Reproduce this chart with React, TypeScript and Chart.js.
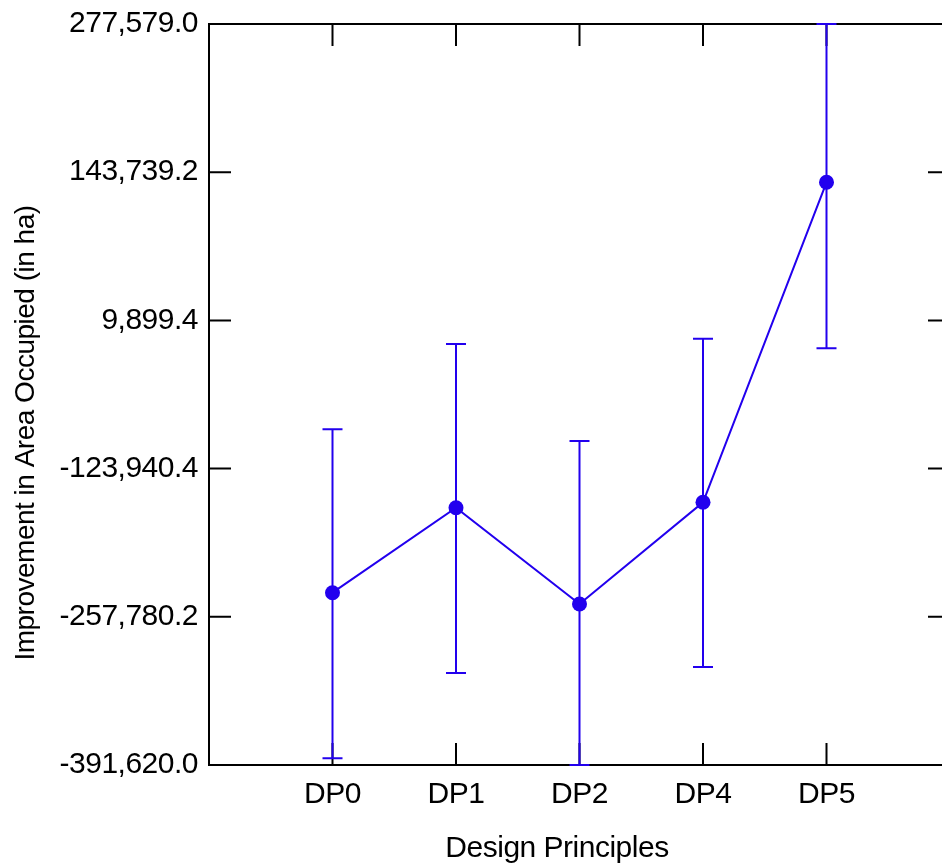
import React, { useEffect, useRef } from 'react';
import { Chart, registerables } from 'chart.js';

Chart.register(...registerables);

const categories = ['DP0', 'DP1', 'DP2', 'DP4', 'DP5'];
const means = [-236014, -159250, -246219, -154374, 134618];
const upper = [-88447, -11413, -99014, -6627, 277579];
const lower = [-385567, -308533, -391620, -303114, -15296];
const yTickValues = [-391620.0, -257780.2, -123940.4, 9899.4, 143739.2, 277579.0];
const xTitle = 'Design Principles';
const yTitle = 'Improvement in Area Occupied (in ha)';

const BLUE = '#2200ee';
const FONT = '"Liberation Sans", Arial, sans-serif';

const fmt = (v: number) =>
  v.toLocaleString('en-US', { minimumFractionDigits: 1, maximumFractionDigits: 1 });

const customPlugin = {
  id: 'custom',
  beforeDraw(chart: any) {
    const ctx = chart.ctx;
    ctx.letterSpacing = '-0.5px';
    ctx.save();
    ctx.fillStyle = '#fff';
    ctx.fillRect(0, 0, chart.width, chart.height);
    ctx.restore();
  },
  beforeDatasetsDraw(chart: any) {
    const { ctx, chartArea: a, scales } = chart;
    const x = scales.x;
    const y = scales.y;
    const TL = 22;
    ctx.save();
    ctx.strokeStyle = '#000';
    ctx.lineWidth = 2;
    ctx.beginPath();
    ctx.rect(a.left, a.top, a.right - a.left, a.bottom - a.top);
    ctx.stroke();
    ctx.beginPath();
    yTickValues.forEach((v) => {
      const py = y.getPixelForValue(v);
      ctx.moveTo(a.left, py);
      ctx.lineTo(a.left + TL, py);
      ctx.moveTo(a.right, py);
      ctx.lineTo(a.right - TL, py);
    });
    categories.forEach((_, i) => {
      const px = x.getPixelForValue(i + 1);
      ctx.moveTo(px, a.bottom);
      ctx.lineTo(px, a.bottom - TL);
      ctx.moveTo(px, a.top);
      ctx.lineTo(px, a.top + TL);
    });
    ctx.stroke();

    // error bars
    ctx.strokeStyle = BLUE;
    ctx.lineWidth = 2;
    ctx.beginPath();
    categories.forEach((_, i) => {
      const px = x.getPixelForValue(i + 1);
      const pt = y.getPixelForValue(upper[i]);
      const pb = y.getPixelForValue(lower[i]);
      ctx.moveTo(px, pt);
      ctx.lineTo(px, pb);
      ctx.moveTo(px - 10, pt);
      ctx.lineTo(px + 10, pt);
      ctx.moveTo(px - 10, pb);
      ctx.lineTo(px + 10, pb);
    });
    ctx.stroke();
    ctx.restore();
  },
  afterDraw(chart: any) {
    const { ctx } = chart;
    ctx.save();
    ctx.fillStyle = '#000';
    ctx.font = `30px ${FONT}`;
    ctx.textAlign = 'center';
    ctx.textBaseline = 'alphabetic';
    ctx.fillText(xTitle, 557, 857);
    ctx.translate(34, 433);
    ctx.rotate(-Math.PI / 2);
    ctx.font = `28px ${FONT}`;
    ctx.fillText(yTitle, 0, 0);
    ctx.restore();
  },
};

export default function App() {
  const ref = useRef<HTMLCanvasElement>(null);
  useEffect(() => {
    if (!ref.current) return;
    const chart = new Chart(ref.current, {
      type: 'line',
      data: {
        datasets: [
          {
            data: means.map((m, i) => ({ x: i + 1, y: m })),
            borderColor: BLUE,
            backgroundColor: BLUE,
            borderWidth: 2,
            pointRadius: 7.5,
            pointBorderWidth: 0,
            pointBackgroundColor: BLUE,
            tension: 0,
          },
        ],
      },
      options: {
        animation: false,
        responsive: false,
        devicePixelRatio: 1,
        layout: { padding: { top: 24, right: 10, left: 0, bottom: 0 } },
        plugins: { legend: { display: false }, tooltip: { enabled: false } },
        scales: {
          x: {
            type: 'linear',
            min: 0,
            max: 6,
            grid: { display: false, drawTicks: false },
            border: { display: false },
            afterBuildTicks: (s: any) => {
              s.ticks = categories.map((_, i) => ({ value: i + 1 }));
            },
            afterFit: (s: any) => {
              s.height = 98;
              s.paddingLeft = 0;
              s.paddingRight = 0;
              s.paddingTop = 0;
              s.paddingBottom = 0;
            },
            ticks: {
              autoSkip: false,
              maxRotation: 0,
              padding: 12,
              color: '#000',
              font: { family: FONT, size: 30 },
              callback: (v: any) => categories[Number(v) - 1] ?? '',
            },
          },
          y: {
            type: 'linear',
            min: yTickValues[0],
            max: yTickValues[yTickValues.length - 1],
            grid: { display: false, drawTicks: false },
            border: { display: false },
            afterBuildTicks: (s: any) => {
              s.ticks = yTickValues.map((v) => ({ value: v }));
            },
            afterFit: (s: any) => {
              s.width = 209;
              s.paddingLeft = 0;
              s.paddingRight = 0;
              s.paddingTop = 0;
              s.paddingBottom = 0;
            },
            ticks: {
              padding: 11,
              color: '#000',
              font: { family: FONT, size: 30 },
              callback: (v: any) => fmt(Number(v)),
            },
          },
        },
      },
      plugins: [customPlugin],
    } as any);
    return () => chart.destroy();
  }, []);
  return (
    <div
      style={{
        position: 'fixed',
        left: 0,
        top: 0,
        width: 942,
        height: 863,
        overflow: 'hidden',
        background: '#fff',
      }}
    >
      <canvas ref={ref} width={960} height={863} style={{ display: 'block' }} />
    </div>
  );
}
